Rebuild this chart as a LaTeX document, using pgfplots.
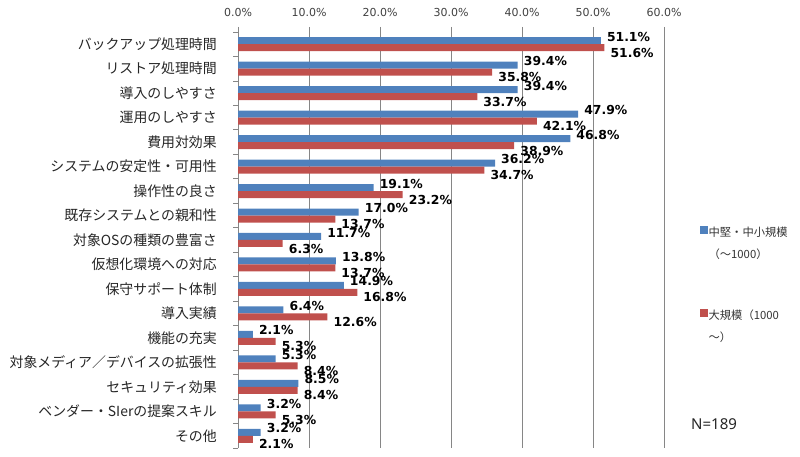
\documentclass[border=0pt]{standalone}
\usepackage{fontspec}
\setmainfont{DejaVu Sans}
\newfontfamily\jp{Noto Sans CJK JP}
\newfontfamily\nsans{Noto Sans}
\usepackage{pgfplots}
\usepackage{pgfplotstable}
\pgfplotsset{compat=1.18}
\definecolor{sblue}{HTML}{4F81BD}
\definecolor{sred}{HTML}{C0504D}
\definecolor{gridc}{HTML}{868686}
\pgfplotstableread{
y a b
16 51.1 51.6
15 39.4 35.8
14 39.4 33.7
13 47.9 42.1
12 46.8 38.9
11 36.2 34.7
10 19.1 23.2
9 17.0 13.7
8 11.7 6.3
7 13.8 13.7
6 14.9 16.8
5 6.4 12.6
4 2.1 5.3
3 5.3 8.4
2 8.5 8.4
1 3.2 5.3
0 3.2 2.1
}\datatable
\begin{document}
\begin{tikzpicture}[x=1pt,y=1pt]
\useasboundingbox (0,0) rectangle (800,457);
\begin{axis}[
  at={(238pt,9pt)}, anchor=south west,
  scale only axis, width=426pt, height=416pt,
  /pgf/number format/assume math mode=true,
  xbar=0pt, bar width=7pt,
  xmin=0, xmax=60, ymin=-0.5, ymax=16.5,
  axis x line*=top, axis y line*=left,
  x axis line style={draw=none},
  y axis line style={gridc, line width=0.8pt},
  xtick={0,10,...,60},
  xticklabel={\pgfmathprintnumber[fixed,fixed zerofill,precision=1]{\tick}\%},
  xticklabel style={font=\fontsize{11}{13}\selectfont, text=black!75, yshift=7pt},
  xmajorgrids, grid style={gridc, line width=0.8pt},
  major x tick style={gridc, line width=0.8pt},
  tick align=outside, major tick length=5pt,
  ytick={0,...,16},
  yticklabels={その他,ベンダー・SIerの提案スキル,セキュリティ効果,対象メディア／デバイスの拡張性,機能の充実,導入実績,保守サポート体制,仮想化環境への対応,対象OSの種類の豊富さ,既存システムとの親和性,操作性の良さ,システムの安定性・可用性,費用対効果,運用のしやすさ,導入のしやすさ,リストア処理時間,バックアップ処理時間},
  yticklabel style={font=\jp\fontsize{13.9}{16}\selectfont, text=black!85, inner sep=0pt, xshift=-16pt},
  major y tick style={draw=none},
  minor ytick={-0.5,0.5,...,16.5}, minor tick length=5pt,
  minor y tick style={gridc, line width=0.8pt},
  point meta=x,
  nodes near coords={\pgfmathprintnumber[fixed,fixed zerofill,precision=1]{\pgfplotspointmeta}\%},
  nodes near coords style={font=\bfseries\fontsize{12.4}{14}\selectfont, text=black, anchor=west, inner sep=0pt, xshift=6pt},
  clip=false,
  legend style={at={(1.077,0.552)}, anchor=north west, draw=none, fill=none,
    font=\jp\fontsize{11.3}{22}\selectfont, text=black!80, row sep=64pt,
    nodes={inner sep=1pt}},
  legend cell align=left,
  legend image code/.code={\fill[#1,draw=none] (0pt,-3.8pt) rectangle (7.6pt,3.8pt);},
]
\addplot[fill=sblue, draw=none, bar shift=3.5pt, nodes near coords style={yshift=4pt}] table[x=a,y=y]{\datatable};
\addlegendentry{\begin{tabular}[t]{@{}l@{}}中堅・中小規模\\（～1000）\end{tabular}}
\addplot[fill=sred, draw=none, bar shift=-3.5pt, nodes near coords style={yshift=-5pt}] table[x=b,y=y]{\datatable};
\addlegendentry{\begin{tabular}[t]{@{}l@{}}大規模（1000\\～）\end{tabular}}
\end{axis}
\node[font=\nsans\fontsize{15}{17}\selectfont, text=black!85, anchor=west, inner sep=0pt] at (691,33) {N=189};
\end{tikzpicture}
\end{document}
